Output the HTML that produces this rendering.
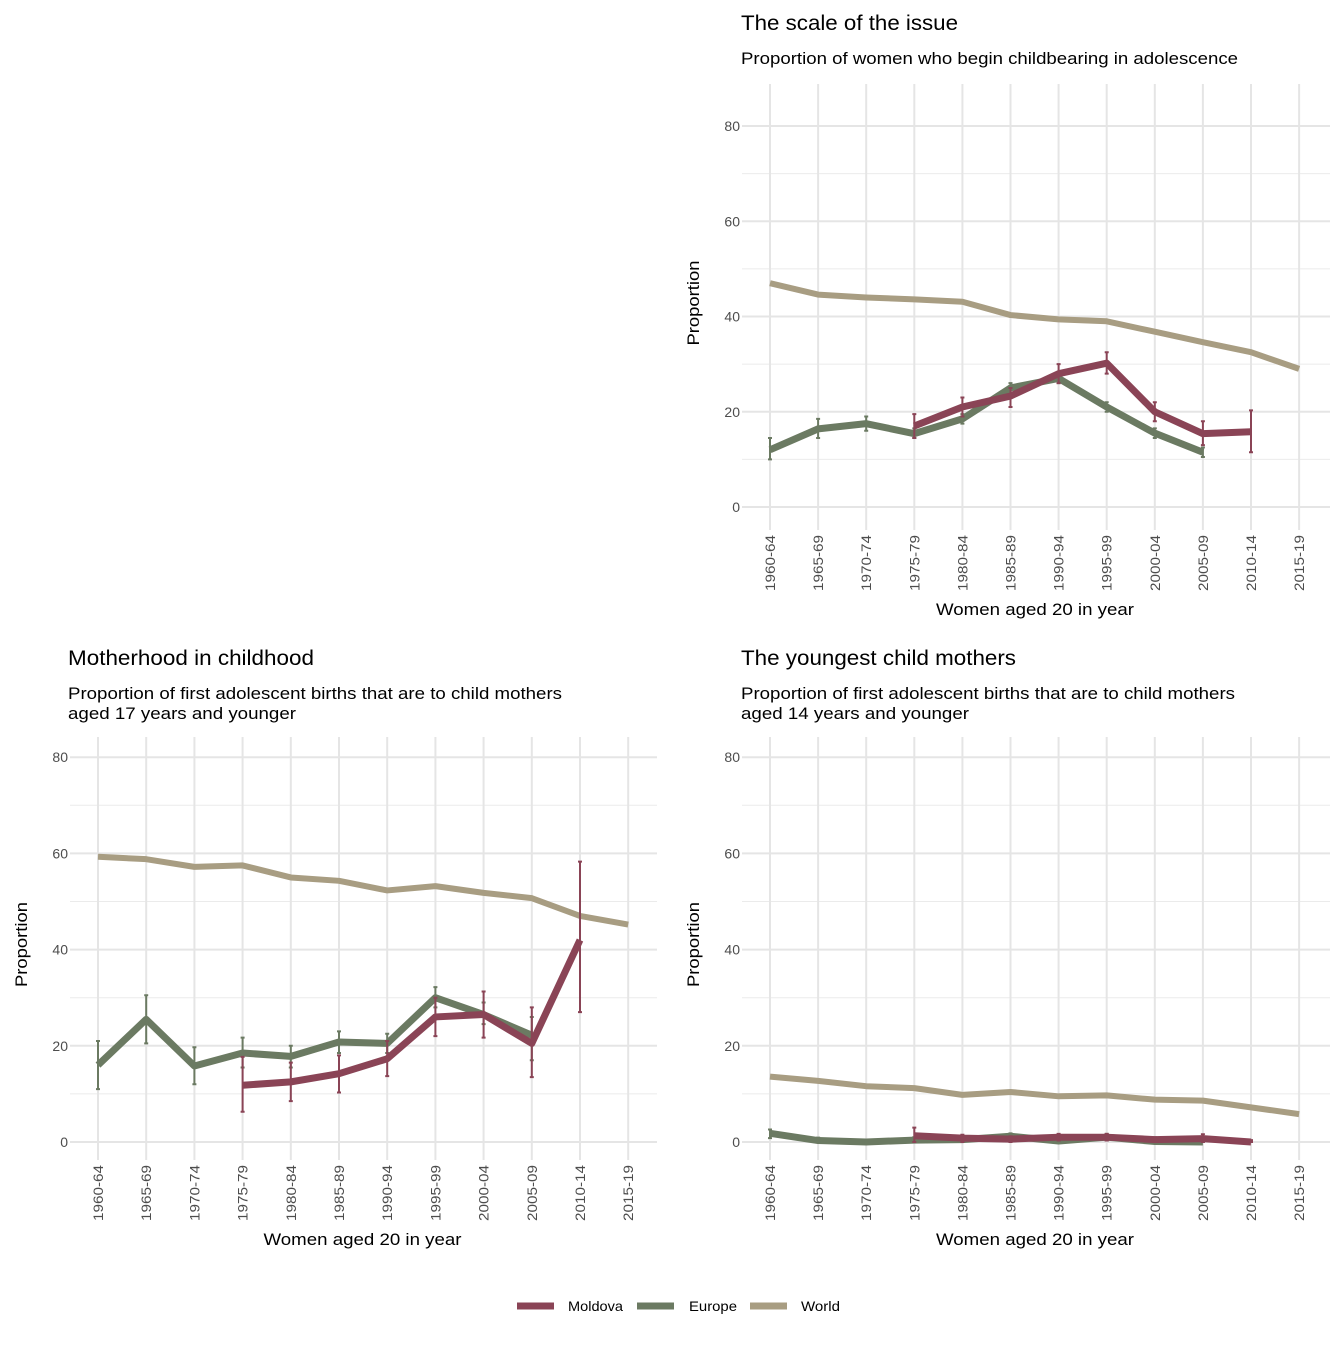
<!DOCTYPE html>
<html><head><meta charset="utf-8"><style>
body{margin:0;background:#fff;font-family:"Liberation Sans",Arial,sans-serif}
svg text{font-family:"Liberation Sans",Arial,sans-serif}
</style></head><body>
<svg id="chart" width="1344" height="1344" xmlns="http://www.w3.org/2000/svg"></svg>
<script>
const categories=["1960-64","1965-69","1970-74","1975-79","1980-84","1985-89","1990-94","1995-99","2000-04","2005-09","2010-14","2015-19"];
const yTicks=[0,20,40,60,80];
// panel 1
const p1World=[47,44.6,44,43.6,43.1,40.3,39.4,39,36.8,34.6,32.5,29];
const p1Europe=[12,16.4,17.5,15.4,18.5,25,27,21,15.5,11.5,null,null];
const p1EuropeLo=[10,14.5,16,14.5,17.5,24,26,20,14.5,10.5,null,null];
const p1EuropeHi=[14.5,18.5,19,16.5,19.5,26,28,22,16.5,12.5,null,null];
const p1Moldova=[null,null,null,17,21,23.3,28,30.2,20,15.4,15.8,null];
const p1MoldovaLo=[null,null,null,14.5,19,21,26,28,18,13,11.5,null];
const p1MoldovaHi=[null,null,null,19.5,23,25,30,32.5,22,18,20.3,null];
// panel 2
const p2World=[59.3,58.8,57.2,57.5,55,54.3,52.3,53.2,51.8,50.7,47,45.2];
const p2Europe=[16,25.5,15.8,18.5,17.8,20.8,20.5,30,26.5,22.2,null,null];
const p2EuropeLo=[11,20.5,12,15.5,15.5,18.5,18.5,28,24.5,17,null,null];
const p2EuropeHi=[21,30.5,19.7,21.7,20,23,22.5,32.2,29,26,null,null];
const p2Moldova=[null,null,null,11.8,12.5,14.2,17.3,26,26.5,20.5,42,null];
const p2MoldovaLo=[null,null,null,6.3,8.5,10.3,13.7,22,21.7,13.5,27,null];
const p2MoldovaHi=[null,null,null,17.7,16.5,18,21,30,31.3,28,58.3,null];
// panel 3
const p3World=[13.6,12.7,11.6,11.2,9.8,10.4,9.5,9.7,8.8,8.6,7.2,5.8];
const p3Europe=[1.8,0.3,0,0.4,0.5,1.2,0.2,1,0.1,0,null,null];
const p3EuropeLo=[0.8,0,0,0,0,0.5,0,0.3,0,0,null,null];
const p3EuropeHi=[2.6,0.9,0.5,1,1,1.8,0.7,1.7,0.5,0.3,null,null];
const p3Moldova=[null,null,null,1.3,0.8,0.6,1.0,1.0,0.5,0.7,0,null];
const p3MoldovaLo=[null,null,null,0,0,0,0.3,0.3,0,0,0,null];
const p3MoldovaHi=[null,null,null,3,1.5,1.2,1.7,1.7,1,1.6,0.4,null];

const C={m:"#8a4456",e:"#6b7a62",w:"#a89d82"};
const svg=document.getElementById('chart');
const NS="http://www.w3.org/2000/svg";
function mk(tag,attrs,parent){const el=document.createElementNS(NS,tag);for(const k in attrs)el.setAttribute(k,attrs[k]);(parent||svg).appendChild(el);return el;}
function txt(s,attrs,parent){const t=mk('text',attrs,parent);t.textContent=s;return t;}

function panel(cfg){
  const g=mk('g',{});
  
  
  const x=i=>cfg.x0+i*cfg.dx;
  const y=v=>cfg.y0-v*cfg.k;
  for(let v=10;v<=70;v+=20){mk('line',{x1:cfg.left,x2:cfg.right,y1:y(v),y2:y(v),stroke:"#ebebeb","stroke-width":1},g);}
  yTicks.forEach(v=>{const l=mk('line',{x1:cfg.left,x2:cfg.right,y1:y(v),y2:y(v),stroke:"#e5e5e5","stroke-width":2},g);
    
    const t=txt(v,{x:cfg.left-2,y:y(v)+5,"text-anchor":"end","font-size":14,fill:"#4d4d4d"},g);
    });
  categories.forEach((c,i)=>{mk('line',{x1:x(i),x2:x(i),y1:cfg.top,y2:cfg.bottom,stroke:"#e5e5e5","stroke-width":2},g);
    const t=txt(c,{transform:`translate(${x(i)+5},${cfg.bottom+5}) rotate(-90)`,"text-anchor":"end","font-size":14,fill:"#4d4d4d",textLength:56,lengthAdjust:"spacingAndGlyphs"},g);
    });
  function series(vals,lo,hi,col,w,name){
    let d="";vals.forEach((v,i)=>{if(v==null)return;d+=(d?"L":"M")+x(i)+","+y(v);});
    const p=mk('path',{d,fill:"none",stroke:col,"stroke-width":w,"stroke-linejoin":"round"},g);
    
    if(lo)lo.forEach((l,i)=>{if(l==null)return;const h=hi[i];
      const e=mk('path',{d:`M${x(i)},${y(l)}L${x(i)},${y(h)}M${x(i)-2},${y(l)}L${x(i)+2},${y(l)}M${x(i)-2},${y(h)}L${x(i)+2},${y(h)}`,stroke:col,"stroke-width":2,fill:"none"},g);
      });
  }
  series(cfg.w,null,null,C.w,6,'world');
  series(cfg.e,cfg.el,cfg.eh,C.e,7,'europe');
  series(cfg.m,cfg.ml,cfg.mh,C.m,7,'moldova');
  const t1=txt(cfg.title,{x:cfg.tx,y:cfg.ty,"font-size":21,fill:"#000",textLength:cfg.tl,lengthAdjust:"spacingAndGlyphs"},g);
  
  cfg.sub.forEach((s,j)=>{const t=txt(s,{x:cfg.tx,y:cfg.ty+34+j*20,"font-size":17,fill:"#000",textLength:cfg.sl[j],lengthAdjust:"spacingAndGlyphs"},g);
    });
  const ya=txt("Proportion",{transform:`translate(${cfg.left-43},${(cfg.top+cfg.bottom)/2-4}) rotate(-90)`,"text-anchor":"middle","font-size":17,textLength:85,lengthAdjust:"spacingAndGlyphs"},g);
  
  const xa=txt("Women aged 20 in year",{x:(cfg.left+cfg.right)/2-1,y:cfg.bottom+85,"text-anchor":"middle","font-size":17,textLength:198,lengthAdjust:"spacingAndGlyphs"},g);
  
}
panel({name:'scale-of-issue-panel',x0:770,dx:48.1,y0:507,k:4.7625,left:742,right:1330,top:84,bottom:530,
  title:"The scale of the issue",tl:217,sub:["Proportion of women who begin childbearing in adolescence"],sl:[497],tx:741,ty:30,
  w:p1World,e:p1Europe,el:p1EuropeLo,eh:p1EuropeHi,m:p1Moldova,ml:p1MoldovaLo,mh:p1MoldovaHi});
panel({name:'motherhood-in-childhood-panel',x0:98,dx:48.2,y0:1142,k:4.81,left:70,right:657,top:737,bottom:1160,
  title:"Motherhood in childhood",tl:246,sub:["Proportion of first adolescent births that are to child mothers","aged 17 years and younger"],sl:[494,228],tx:68,ty:665,
  w:p2World,e:p2Europe,el:p2EuropeLo,eh:p2EuropeHi,m:p2Moldova,ml:p2MoldovaLo,mh:p2MoldovaHi});
panel({name:'youngest-child-mothers-panel',x0:770,dx:48.1,y0:1142,k:4.81,left:742,right:1330,top:737,bottom:1160,
  title:"The youngest child mothers",tl:275,sub:["Proportion of first adolescent births that are to child mothers","aged 14 years and younger"],sl:[494,228],tx:741,ty:665,
  w:p3World,e:p3Europe,el:p3EuropeLo,eh:p3EuropeHi,m:p3Moldova,ml:p3MoldovaLo,mh:p3MoldovaHi});
const leg=mk('g',{});


[["Moldova",C.m,517,568,55],["Europe",C.e,637,689,48],["World",C.w,750,801,39]].forEach(([n,c,rx,tx,tl])=>{
  const r=mk('line',{x1:rx,x2:rx+37,y1:1306,y2:1306,stroke:c,"stroke-width":7},leg);
  
  const t=txt(n,{x:tx,y:1311,"font-size":14,textLength:tl,lengthAdjust:"spacingAndGlyphs"},leg);
  
});
</script>
</body></html>
